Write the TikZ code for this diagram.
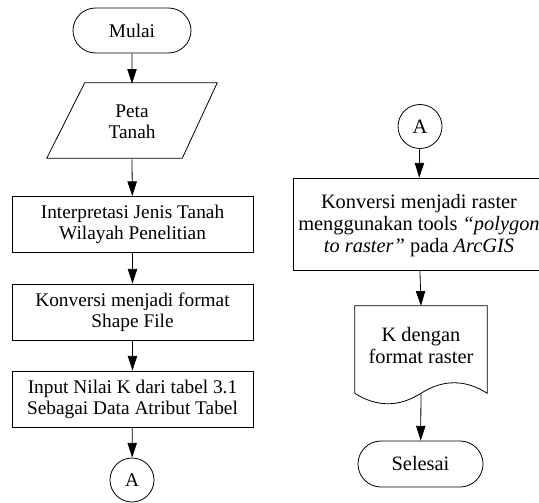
\documentclass[tikz,border=0pt]{standalone}
\usepackage{fontspec}
\setmainfont{Liberation Serif}
\usetikzlibrary{shapes.misc,arrows.meta,calc}

\begin{document}
\begin{tikzpicture}[
  x=0.75pt, y=-0.75pt,
  every node/.style={font=\fontsize{14.5}{15.9}\selectfont, align=center, inner sep=0pt},
  bigtext/.style={font=\fontsize{15.3}{16.5}\selectfont},
  line/.style={line width=0.6pt, draw=black},
  flow/.style={line, -{Triangle[length=11pt,width=7pt]}},
  terminal/.style={line, rounded rectangle, minimum width=#1, minimum height=34.5pt},
  procbox/.style={line, rectangle, minimum width=180.75pt, minimum height=42pt},
  connector/.style={line, circle, minimum size=33pt},
  frame/.style={rectangle, minimum width=#1}
]
\clip (0,0) rectangle (539,503);

% left column
\node[terminal=88.5pt, minimum height=33.75pt] (mulai) at (132,30.5) {Mulai};
\node[frame=127.5pt, minimum height=56.25pt] (peta) at (132,121.5) {Peta\\Tanah};
\draw[line] ($(peta.north west)+(38,-1)$) -- ($(peta.north east)+(0,-1)$)
  -- ($(peta.south east)+(-35,-1)$) -- ($(peta.south west)+(0,-1)$) -- cycle;
\node[procbox] (interp) at (132.5,224.5) {Interpretasi Jenis Tanah\\Wilayah Penelitian};
\node[procbox] (shape) at (132.5,312) {Konversi menjadi format\\Shape File};
\node[procbox] (input) at (132.5,399) {Input Nilai K dari tabel 3.1\\Sebagai Data Atribut Tabel};
\node[connector] (outA) at (132,480) {A};

% right column
\node[connector, bigtext] (inA) at (420,126.5) {A};
\node[line, rectangle, minimum width=188pt, minimum height=69pt] (raster) at (418.5,224) {};
\node[bigtext] (rastertext) at (419,226) {Konversi menjadi raster\\menggunakan tools \textit{“polygon}\\\textit{to raster”} pada \textit{ArcGIS}};
\node[frame=99pt, minimum height=65.25pt] (doc) at (421,349.5) {};
\node[bigtext] (doctext) at (421,345.5) {K dengan\\format raster};
\draw[line] (doc.south west) -- (doc.north west) -- (doc.north east) -- (doc.south east)
  .. controls ($(doc.south east)+(-22,-14)$) and ($(doc.south)+(22,-14)$) .. (doc.south)
  .. controls ($(doc.south)+(-22,14)$) and ($(doc.south west)+(22,14)$) .. (doc.south west);
\node[terminal=93.75pt, bigtext] (selesai) at (420.5,464) {Selesai};

% connectors
\draw[flow] (mulai) -- (peta.north);
\draw[flow] (peta.south) -- (interp);
\draw[flow] (interp) -- (shape);
\draw[flow] (shape) -- (input);
\draw[flow] (input) -- (outA);
\draw[flow] (inA) -- (raster);
\draw[flow] (raster) -- (doc.north);
\draw[flow] (doc.south) -- (selesai);
\end{tikzpicture}
\end{document}
